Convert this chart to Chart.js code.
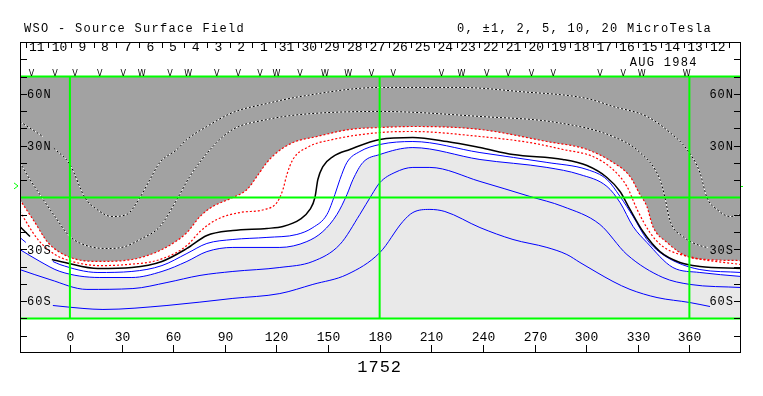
<!DOCTYPE html>
<html>
<head>
<meta charset="utf-8">
<script src="https://cdn.jsdelivr.net/npm/chart.js@4"></script>
<style>
  body { margin: 0; background: #fff; }
  canvas { display: block; }
</style>
</head>
<body>
<canvas id="map" width="763" height="396"></canvas>
<script>
// axis ranges (longitude deg, latitude deg)
const lonMin = -29, lonMax = 390;
const lonTicks = [0, 30, 60, 90, 120, 150, 180, 210, 240, 270, 300, 330, 360];
const latTicks = [80, 70, 60, 50, 40, 30, 20, 10, -10, -20, -30, -40, -50, -60, -70, -80];
const latLabels = ["60N", "30N", "30S", "60S"];
const latLabelValues = [60, 30, -30, -60];
const greenLats = [70, 0, -70];
const greenLons = [0, 180, 360];
const rotation = "1752";
const b0Lat = 6.7;

// days of the rotation along the top, Aug 1984
const dayLabels = ["11", "10", "9", "8", "7", "6", "5", "4", "3", "2", "1", "31", "30", "29", "28", "27",
  "26", "25", "24", "23", "22", "21", "20", "19", "18", "17", "16", "15", "14", "13", "12"];
const dayLons = [-19.2, -6.0, 7.2, 20.4, 33.6, 46.8, 59.9, 73.1, 86.3, 99.5, 112.7, 125.9, 139.1, 152.3, 165.5, 178.7,
  191.8, 205.0, 218.2, 231.4, 244.6, 257.8, 271.0, 284.2, 297.4, 310.6, 323.7, 336.9, 350.1, 363.3, 376.5];
const markerLons = [-22.3, -8.7, 2.9, 17.4, 31, 41.7, 58.1, 68.8, 85.3, 97.8, 110.4, 120.1, 133.7, 148.2, 161.7, 175.3,
  187.9, 216, 227.6, 242.2, 254.7, 268.3, 280.9, 308, 321.6, 332.3, 358.4];
const markerTypes = ["V", "V", "V", "V", "V", "W", "V", "W", "V", "V", "V", "W", "V", "W", "W", "V",
  "V", "V", "W", "V", "V", "V", "V", "V", "V", "W", "W"];

// contours as [lon, lat]; null lat = line hidden behind a label
const dottedOuter = [[-29.1, 44.0], [-15.7, 35.3], [-12.5, null], [-9.3, 28.5], [0, 19.1], [8.7, 0], [15.7, -6.9],
  [24.4, -11], [33.1, -9.8], [40.7, 0], [46.5, 10.4], [52.3, 20.3], [62.2, 27.8], [68, 33.6], [79.6, 41.1],
  [94.7, 49.2], [114.5, 54.4], [133.7, 58.4], [180.2, 63.7], [226.7, 63.7], [261.5, 61.3], [300.5, 57.3],
  [315.6, 52.7], [335.3, 46.9], [348.7, 37.6], [358.6, 27.8], [366.1, 14.5], [370.2, 0], [376, -6.9],
  [383.6, -11], [390, -9.8]];
const dottedInner = [[-29.1, 20.3], [-23.2, 10.4], [-16.3, 0], [-8.7, -11], [0, -22.6], [11.6, -28.4],
  [23.2, -29.5], [32, -28.4], [40.7, -24.3], [52.3, -16.8], [62.8, 0], [69.7, 12.2], [83.1, 29.5], [94.7, 39.4],
  [114.5, 45.1], [133.7, 48], [180.2, 49.8], [238.3, 46.9], [283, 43.4], [315.6, 35.3], [331.3, 26],
  [342.9, 10.4], [345.8, 0], [348.7, -13.3], [356.3, -22.6], [367.9, -28.4], [370.8, -28.9]];
const redOuter = [[-29.1, -1.2], [-20.3, -14.5], [-12.8, -26], [-1.2, -34.1], [16.3, -37], [36, -35.9],
  [53.5, -30.1], [68, -20.3], [75.6, -11], [83.1, -5.2], [94.7, 0], [102.9, 4.6], [108.7, 12.2], [114.5, 20.3],
  [120.3, 26], [129.6, 31.8], [143.6, 35.3], [162.7, 39.4], [180.2, 40.5], [199.3, 41.1], [238.3, 39.4],
  [277.2, 32.4], [300.5, 27.8], [315.6, 20.3], [325.5, 12.2], [331.3, 1.7], [335.3, -5.2], [338.8, -16.8],
  [347, -26], [358.6, -34.1], [370.2, -35.9], [390, -36.5]];
const redInner = [[-29.1, -8.1], [-18.6, -24.3], [-8.7, -33], [1.2, -37], [17.4, -39.4], [33.1, -38.8],
  [52.3, -35.9], [68, -27.8], [75.6, -19.7], [85.4, -12.7], [98.8, -8.7], [113.3, -6.9], [120.3, -2.9],
  [123.8, 4.6], [126.1, 13.3], [129.6, 22], [137.7, 28.9], [152.9, 33.6], [180.2, 37.6], [199.3, 38.2],
  [238.3, 35.3], [267.3, 31.8], [286.5, 27.8], [304, 23.7], [315.6, 16.2], [323.7, 6.4], [329.6, -6.9],
  [337.1, -20.3], [344.6, -28.4], [362, -34.7], [390, -38.8]];
const neutral = [[-29.1, -16.8], [-23.2, -22.6], [-20, null], [-10.5, -35.9], [-2.9, -37.6], [16.3, -41.1],
  [36, -40.5], [53.5, -37], [68, -29.5], [79.6, -22], [94.7, -19.1], [114.5, -17.9], [123.8, -16.8],
  [133.7, -12.7], [139.5, -6.9], [142.4, 0], [144.1, 10.4], [147, 17.9], [152.9, 23.7], [162.7, 27.8],
  [180.2, 33.6], [199.3, 34.7], [219.1, 32.4], [238.3, 28.9], [257.5, 24.9], [286.5, 22], [300.5, 18.5],
  [312.1, 11.6], [319.7, 3.5], [325.5, -6.9], [333, -19.7], [342.9, -31.3], [354.5, -37.6], [366.1, -39.9],
  [390, -41.1]];
const blue1 = [[-29.1, -23.1], [-25.6, -26], [-22, null], [-9.9, -37], [-5.8, -38.8], [16.3, -43.4], [36, -42.8],
  [53.5, -39.4], [68, -32.4], [79.6, -26.6], [94.7, -24.3], [114.5, -23.1], [131.9, -21.4], [141.2, -17.4],
  [149.4, -9.8], [154, 1.7], [156.9, 10.4], [161, 20.3], [168.5, 26.6], [180.2, 30.7], [199.3, 32.4],
  [238.3, 26], [277.2, 20.3], [300.5, 16.2], [312.1, 10.4], [319.7, 0.6], [327.3, -11], [335.3, -24.3],
  [342.9, -31.8], [352.8, -37.6], [366.1, -41.7], [390, -43.4]];
const blue2 = [[-29.1, -30.1], [-17.4, -37], [-5.8, -42.8], [17.4, -46.3], [36, -46.3], [53.5, -42.8], [68, -37],
  [79.6, -31.3], [94.7, -28.9], [122, -28.9], [137.7, -25.5], [147, -19.7], [155.2, -9.8], [161, 1.7],
  [164.5, 10.4], [170.3, 20.3], [180.2, 24.9], [199.3, 28.9], [238.3, 22], [277.2, 17.4], [296.4, 13.3],
  [312.1, 6.4], [319.7, -2.9], [327.3, -16.8], [335.3, -26], [350.4, -40.5], [366.1, -43.4], [390, -45.7]];
const blue3 = [[-29.1, -41.7], [-11.6, -47.5], [9.9, -53.2], [36.6, -52.7], [56.4, -49.2], [75.6, -45.1],
  [94.7, -42.8], [122, -40.5], [141.2, -37], [156.9, -27.2], [168.5, -9.8], [175.5, 1.7], [180.2, 8.7],
  [188.9, 14.5], [199.3, 17.4], [209.2, 17.4], [238.3, 9.3], [267.3, 0.6], [286.5, -5.2], [308, -15.6],
  [323.7, -33], [344.6, -46.3], [360.3, -50.3], [390, -52.1]];
const blue4 = [[-9.9, -62.5], [7.6, -64.2], [19.2, -64.8], [56.4, -62.5], [94.7, -58.4], [122, -55.6],
  [141.2, -50.3], [161, -44.6], [180.2, -31.8], [193.5, -13.9], [199.3, -8.7], [209.2, -6.9], [217.9, -8.1],
  [238.3, -17.4], [257.5, -24.3], [277.2, -28.9], [288.8, -33], [296.4, -37.6], [306.3, -43.4], [315.6, -48.6],
  [325.5, -53.2], [341.2, -57.9], [360.3, -60.8], [372, -63.1]];

const GRAY = "#a2a2a2";
const LIGHT = "#e9e9e9";
const GREEN = "#00ff00";
const FONT = "'Liberation Mono', 'DejaVu Sans Mono', monospace";

function pts(list) {
  return list.map((p) => ({ x: p[0], y: p[1] }));
}

function contour(list, color, width, dash, order) {
  return {
    data: pts(list),
    borderColor: color,
    borderWidth: width,
    borderDash: dash,
    pointRadius: 0,
    cubicInterpolationMode: "monotone",
    fill: false,
    order
  };
}

function green(list) {
  return { data: pts(list), borderColor: GREEN, borderWidth: 2, pointRadius: 0, fill: false, order: 0 };
}

const datasets = [
  green([[lonMin, greenLats[1]], [lonMax, greenLats[1]]]),
  green([[lonMin, greenLats[0]], [lonMax, greenLats[0]]]),
  green([[lonMin, greenLats[2]], [lonMax, greenLats[2]]]),
  // shaded polarity areas
  { data: pts(redOuter), borderWidth: 0, borderColor: "transparent", pointRadius: 0, cubicInterpolationMode: "monotone",
    backgroundColor: GRAY, fill: 1, order: 30 },
  { data: pts(blue2), borderWidth: 0, borderColor: "transparent", pointRadius: 0, cubicInterpolationMode: "monotone",
    backgroundColor: LIGHT, fill: 2, order: 30 },
  contour(dottedOuter, "#ffffff", 1, [], 12),
  contour(dottedOuter, "#000000", 1, [2, 2], 11),
  contour(dottedInner, "#ffffff", 1, [], 12),
  contour(dottedInner, "#000000", 1, [2, 2], 11),
  contour(redOuter, "#ff0000", 1.2, [2, 2], 10),
  contour(redInner, "#ff0000", 1.2, [2, 2], 10),
  contour(neutral, "#000000", 1.5, [], 10),
  contour(blue1, "#0000ff", 1, [], 10),
  contour(blue2, "#0000ff", 1, [], 10),
  contour(blue3, "#0000ff", 1, [], 10),
  contour(blue4, "#0000ff", 1, [], 10)
];
greenLons.forEach((lon) => datasets.push(green([[lon, greenLats[2]], [lon, greenLats[0]]])));

function hline(ctx, x1, x2, y) {
  ctx.beginPath(); ctx.moveTo(x1, y); ctx.lineTo(x2, y); ctx.stroke();
}
function vline(ctx, x, y1, y2) {
  ctx.beginPath(); ctx.moveTo(x, y1); ctx.lineTo(x, y2); ctx.stroke();
}

const decor = {
  id: "decor",
  afterDraw(chart) {
    const { ctx, chartArea: a, scales: { x, y } } = chart;
    ctx.save();
    ctx.strokeStyle = "#000";
    ctx.fillStyle = "#000";
    ctx.lineWidth = 1;
    ctx.strokeRect(a.left + 0.5, a.top + 0.5, a.right - a.left - 1, a.bottom - a.top - 1);

    // latitude ticks on both sides
    latTicks.forEach((v) => {
      const py = Math.round(y.getPixelForValue(v)) + 0.5;
      hline(ctx, a.left, a.left + 7, py);
      hline(ctx, a.right - 7, a.right, py);
    });
    ctx.font = "12px " + FONT;
    ctx.letterSpacing = "1px";
    ctx.textBaseline = "middle";
    latLabels.forEach((t, i) => {
      const py = y.getPixelForValue(latLabelValues[i]) + 1;
      ctx.textAlign = "left";
      ctx.fillText(t, a.left + 7, py);
      ctx.textAlign = "right";
      ctx.fillText(t, a.right - 7, py);
    });

    // longitude ticks along the bottom
    ctx.letterSpacing = "0px";
    ctx.font = "13px " + FONT;
    ctx.textAlign = "center";
    lonTicks.forEach((v) => {
      const px = Math.round(x.getPixelForValue(v)) + 0.5;
      vline(ctx, px, a.bottom - 8, a.bottom);
      ctx.fillText(String(v), px, a.bottom - 15);
    });

    // day numbers along the top
    ctx.font = "13px " + FONT;
    const step = dayLons[1] - dayLons[0];
    dayLabels.forEach((t, i) => {
      const px = x.getPixelForValue(dayLons[i]);
      ctx.fillText(t, px, a.top + 6);
      const sx = Math.round(x.getPixelForValue(dayLons[i] - step / 2)) + 0.5;
      vline(ctx, sx, a.top, a.top + 6);
    });
    const lastSep = Math.round(x.getPixelForValue(dayLons[dayLons.length - 1] + step / 2)) + 0.5;
    vline(ctx, lastSep, a.top, a.top + 6);

    ctx.font = "12px " + FONT;
    ctx.letterSpacing = "1.3px";
    ctx.textAlign = "left";
    ctx.textBaseline = "alphabetic";
    ctx.fillText("AUG 1984", x.getPixelForValue(325.4), a.top + 24);

    // V / W markers
    ctx.letterSpacing = "0px";
    ctx.font = "8px 'DejaVu Sans', sans-serif";
    ctx.textAlign = "center";
    markerLons.forEach((v, i) => {
      ctx.fillText(markerTypes[i], x.getPixelForValue(v), a.top + 34);
    });

    // titles
    ctx.font = "12px " + FONT;
    ctx.letterSpacing = "1.3px";
    ctx.textAlign = "left";
    ctx.fillText("WSO - Source Surface Field", 24, 32);
    ctx.fillText("0, \u00b11, 2, 5, 10, 20 MicroTesla", 457, 32);

    ctx.font = "17px " + FONT;
    ctx.letterSpacing = "1px";
    ctx.textAlign = "center";
    ctx.textBaseline = "middle";
    ctx.fillText(rotation, x.getPixelForValue(180), a.bottom + 14);

    // B0 marker
    const by = y.getPixelForValue(b0Lat);
    ctx.strokeStyle = GREEN;
    ctx.beginPath();
    ctx.moveTo(a.left - 6, by - 3);
    ctx.lineTo(a.left - 2, by);
    ctx.lineTo(a.left - 6, by + 3);
    ctx.stroke();
    hline(ctx, a.right, a.right + 2, Math.round(by) + 0.5);
    ctx.restore();
  }
};

new Chart(document.getElementById("map"), {
  type: "line",
  data: { datasets },
  options: {
    responsive: false,
    devicePixelRatio: 1,
    animation: false,
    events: [],
    layout: { padding: { left: 20, top: 42, right: 22, bottom: 43 } },
    scales: {
      x: { type: "linear", min: lonMin, max: lonMax, display: false },
      y: { type: "linear", min: -90, max: 90, display: false }
    },
    plugins: { legend: { display: false }, tooltip: { enabled: false } }
  },
  plugins: [decor]
});
</script>
</body>
</html>
